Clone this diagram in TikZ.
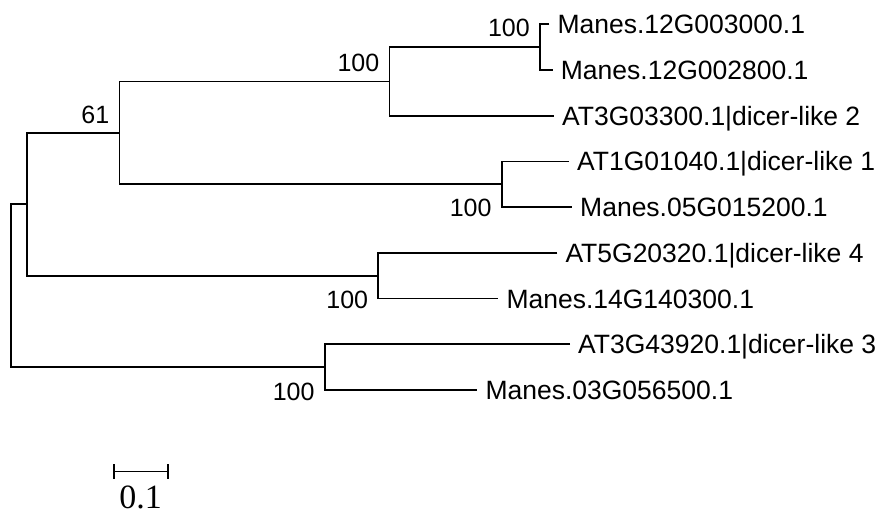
\documentclass[tikz,border=0pt]{standalone}
\usepackage{fontspec}
\setmainfont{Liberation Sans}
\newfontfamily\barfont{Liberation Serif}
\begin{document}
\begin{tikzpicture}[x=1pt,y=-1pt,
  branch/.style={line width=1.8pt, line join=miter},
  leaf/.style={anchor=base west, inner sep=0pt, xshift=8pt, yshift=-9.5pt,
               font=\fontsize{26.5}{30}\selectfont},
  boot/.style={anchor=base east, inner sep=0pt, font=\fontsize{25}{28}\selectfont},
  scaletext/.style={anchor=base, inner sep=0pt, font=\barfont\fontsize{34}{38}\selectfont}]
\useasboundingbox (0,0) rectangle (886,514);

% internal nodes of the tree
\coordinate (root) at (11.3,285.7);
\coordinate (nA)   at (27,204.3);
\coordinate (n61)  at (119.5,132.9);
\coordinate (n2)   at (389.5,81.4);
\coordinate (n12)  at (540,47.2);
\coordinate (n1)   at (501.7,184.3);
\coordinate (n4)   at (378.3,275.7);
\coordinate (n3)   at (324.7,367);

% branch tips
\coordinate (t1) at (549.3,24.3);
\coordinate (t2) at (552.7,70);
\coordinate (t3) at (554,115.7);
\coordinate (t4) at (569,161.4);
\coordinate (t5) at (572,207.1);
\coordinate (t6) at (557.3,252.8);
\coordinate (t7) at (498.3,298.5);
\coordinate (t8) at (570,344.2);
\coordinate (t9) at (477.3,389.9);

% taxon labels
\node[leaf] (l1) at (t1) {Manes.12G003000.1};
\node[leaf] (l2) at (t2) {Manes.12G002800.1};
\node[leaf] (l3) at (t3) {AT3G03300.1|dicer-like 2};
\node[leaf] (l4) at (t4) {AT1G01040.1|dicer-like 1};
\node[leaf] (l5) at (t5) {Manes.05G015200.1};
\node[leaf] (l6) at (t6) {AT5G20320.1|dicer-like 4};
\node[leaf] (l7) at (t7) {Manes.14G140300.1};
\node[leaf] (l8) at (t8) {AT3G43920.1|dicer-like 3};
\node[leaf] (l9) at (t9) {Manes.03G056500.1};

% branches
\draw[branch] (nA)  -| (root) |- (n3);
\draw[branch] (n61) -| (nA)   |- (n4);
\draw[branch] (n2)  -| (n61)  |- (n1);
\draw[branch] (n12) -| (n2)   |- (t3);
\draw[branch] (t1)  -| (n12)  |- (t2);
\draw[branch] (t4)  -| (n1)   |- (t5);
\draw[branch] (t6)  -| (n4)   |- (t7);
\draw[branch] (t8)  -| (n3)   |- (t9);

% bootstrap values
\node[boot] (b12) at (530,36)      {100};
\node[boot] (b2)  at (379.5,71.5)  {100};
\node[boot] (b61) at (109.5,123)   {61};
\node[boot] (b1)  at (491.7,216.5) {100};
\node[boot] (b4)  at (368.3,308.5) {100};
\node[boot] (b3)  at (314.7,400)   {100};

% scale bar
\coordinate (sL)  at (114,471.5);
\coordinate (sR)  at (168.3,471.5);
\coordinate (sLt) at (114,464);
\coordinate (sLb) at (114,479.3);
\coordinate (sRt) at (168.3,464);
\coordinate (sRb) at (168.3,479.3);
\draw[branch] (sL) -- (sR);
\draw[branch] (sLt) -- (sLb);
\draw[branch] (sRt) -- (sRb);
\node[scaletext] (slabel) at (140.5,508.3) {0.1};
\end{tikzpicture}
\end{document}
